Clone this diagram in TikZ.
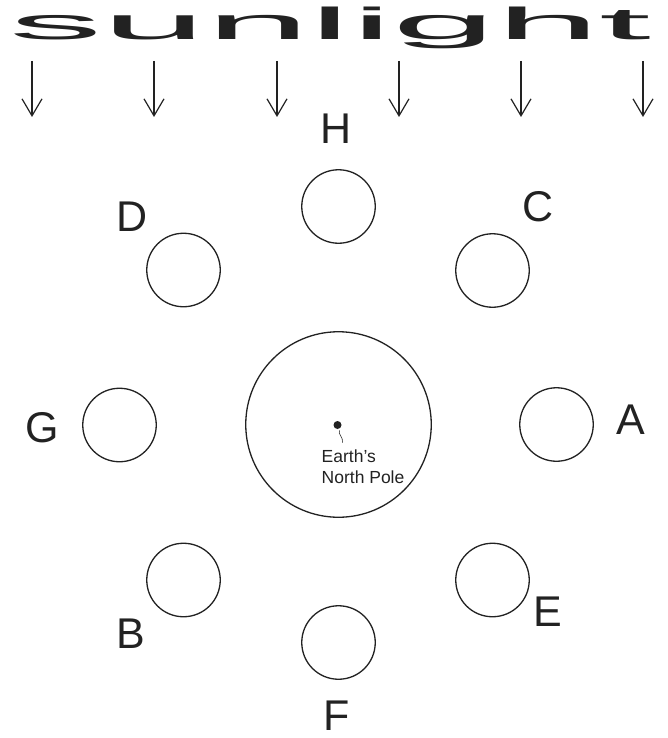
\documentclass[tikz,border=0pt]{standalone}
\usepackage{fontspec}
\setmainfont{Liberation Sans}
\usetikzlibrary{arrows.meta}
\definecolor{inkgray}{HTML}{222222}
\begin{document}
\begin{tikzpicture}[x=1pt,y=-1pt,
  ink/.style={draw=inkgray, line width=1.3pt},
  moon/.style={ink, circle, minimum size=73.5pt, inner sep=0pt},
  earthdisc/.style={ink, circle, minimum size=185.5pt, inner sep=0pt},
  phase/.style={font=\fontsize{43}{43}\selectfont, text=inkgray, inner sep=0pt},
  caption/.style={font=\fontsize{17.5}{21}\selectfont, text=inkgray, inner sep=0pt, anchor=base west},
  ray/.style={draw=inkgray, line width=1.2pt,
    -{Straight Barb[length=17pt,width=20pt,line width=1.2pt]}}]
\useasboundingbox (0,0) rectangle (668,738);

% title, stretched wide
\node[anchor=base west, inner sep=0pt, text=inkgray] (title) at (9,40)
  {\resizebox{642pt}{32.5pt}{sunlight}};

% incoming sunlight rays
\foreach \i/\x in {1/32,2/154,3/277,4/399,5/521,6/643} {
  \coordinate (rs\i) at (\x,61);
  \coordinate (re\i) at (\x,117);
  \draw[ray] (rs\i) -- (re\i);
}

% Earth seen from above the North Pole
\node[earthdisc] (earth) at (338.5,424.5) {};
\coordinate (pole) at (337.5,425);
\fill[inkgray] (pole) circle (4);
\node[caption] (cap1) at (321.5,462) {Earth’s};
\node[caption] (cap2) at (321.5,483) {North Pole};
\coordinate (tickA) at (339.5,430.5);
\coordinate (tickB) at (342.5,442.5);
\draw[inkgray, line width=0.6pt] (tickA) .. controls (337.5,434) and (343.5,437) .. (tickB);

% Moon positions around the orbit
\node[moon] (mH) at (338.5,206.5) {};
\node[moon] (mD) at (183.5,270) {};
\node[moon] (mC) at (492.5,270.5) {};
\node[moon] (mA) at (556.5,424.5) {};
\node[moon] (mG) at (119.5,425) {};
\node[moon] (mB) at (183.5,580) {};
\node[moon] (mE) at (492.5,580) {};
\node[moon] (mF) at (338.5,642.5) {};

% position letters
\node[phase] (lH) at (336,128.5) {H};
\node[phase] (lD) at (132,217) {D};
\node[phase] (lC) at (538,207) {C};
\node[phase] (lA) at (630.5,420) {A};
\node[phase] (lG) at (42.5,428) {G};
\node[phase] (lB) at (130.5,634) {B};
\node[phase] (lE) at (548,612) {E};
\node[phase] (lF) at (337,716) {F};
\end{tikzpicture}
\end{document}
